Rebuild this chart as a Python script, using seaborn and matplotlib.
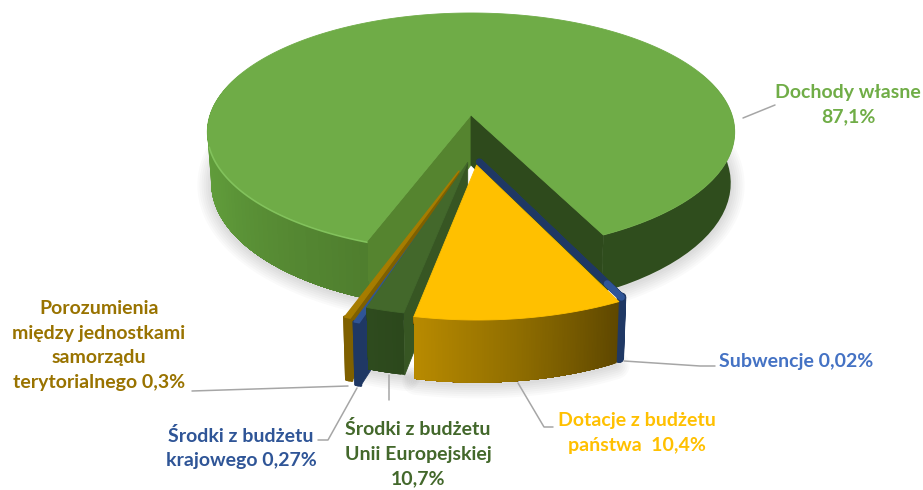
import numpy as np
import seaborn as sns
import matplotlib.pyplot as plt

categories = ['Dochody własne', 'Subwencje', 'Dotacje z budżetu państwa',
              'Środki z budżetu Unii Europejskiej', 'Środki z budżetu krajowego',
              'Porozumienia między jednostkami samorządu terytorialnego']
# slice sizes as drawn (the dark green one is much thinner than its printed label)
shares = [87.1, 0.02, 10.4, 1.91, 0.27, 0.30]
label_texts = ['Dochody własne\n87,1%', 'Subwencje 0,02%', 'Dotacje z budżetu\npaństwa  10,4%',
               'Środki z budżetu\nUnii Europejskiej\n10,7%', 'Środki z budżetu\nkrajowego 0,27%',
               'Porozumienia\nmiędzy jednostkami\nsamorządu\nterytorialnego 0,3%']
label_colors = ['#70AD47', '#4472C4', '#FFC000', '#43682B', '#2F5597', '#997300']

sns.set_theme(style='white')
plt.rcParams['font.family'] = ['Lato', 'DejaVu Sans']

# projection of the pie plane onto the picture
CX, CY = 471, 115
RX, RY = 261, 116.6
K = 0.143
H = 50
FIRST_ANGLE = -20.2


def project(u, v, drop=0.0):
    u, v = np.asarray(u, float), np.asarray(v, float)
    w = 1 - K * v
    x = RX * u / w
    y = CY + RY * v / w + drop * H / w
    return CX + x * (1 - 0.015 * drop), y


def rim(theta, off, drop=0.0):
    t = np.radians(theta)
    return project(off[0] + np.sin(t), off[1] + np.cos(t), drop)


def polygon(ax, xs, ys, color, z, lw=0.6):
    ax.fill(xs, ys, facecolor=color, edgecolor=color, linewidth=lw, zorder=z, joinstyle='round')


def radial_wall(ax, theta, off, color, z):
    x0, y0 = project(off[0], off[1])
    x1, y1 = rim(theta, off)
    x2, y2 = rim(theta, off, 1)
    x3, y3 = project(off[0], off[1], 1)
    polygon(ax, [x0, x1, x2, x3], [y0, y1, y2, y3], color, z)


def outer_wall(ax, hi, lo, colors, off, z, lw=0.0):
    # each strip runs on to the far end, the next one paints over it, so no seams show
    edges = np.linspace(hi, lo, len(colors) + 1)
    for a, c in zip(edges[:-1], colors):
        th = np.linspace(a, lo, 30)
        x0, y0 = rim(th, off)
        x1, y1 = rim(th[::-1], off, 1)
        polygon(ax, np.r_[x0, x1], np.r_[y0, y1], c, z, lw)


def top_face(ax, hi, lo, off, color, z, lw=0.6):
    th = np.linspace(hi, lo, 90 if abs(hi - lo) > 5 else 6)
    x, y = rim(th, off)
    x0, y0 = project(off[0], off[1])
    polygon(ax, np.r_[x0, x, x0], np.r_[y0, y, y0], color, z, lw)


fig, ax = plt.subplots(figsize=(9.23, 4.90), dpi=100)
fig.subplots_adjust(0, 0, 1, 1)
ax.set_xlim(0, 923)
ax.set_ylim(490, 0)
ax.axis('off')

# angles of all slices, clockwise seen from above
ends = FIRST_ANGLE - np.cumsum(shares) * 3.6
starts = np.r_[FIRST_ANGLE, ends[:-1]]

offsets = [(0, 0), (0.03, 0.38), (0.02, 0.405), (-0.012, 0.385), (-0.03, 0.47), (-0.043, 0.45)]

# soft shadow under the walls
for lw in np.arange(2, 22, 3):
    for th, off in [(np.linspace(-100, -20, 60), offsets[0]), (np.linspace(28, 95, 50), offsets[0]),
                    (np.linspace(26, -11, 40), offsets[2]), (np.linspace(-11, -20, 10), offsets[3])]:
        x, y = rim(th, off, 1)
        ax.plot(x, y + 2, color='black', alpha=0.018, lw=lw, zorder=0, solid_capstyle='round')

# big green slice
g_hi, g_lo = ends[0] + 360, starts[0]
radial_wall(ax, g_lo, offsets[0], '#55842F', 1)
radial_wall(ax, g_hi, offsets[0], '#2E4A1C', 1)
left_colors = sns.blend_palette(['#65A33E', '#5F9A3A', '#4F7E2E'], 60)
outer_wall(ax, -112, g_lo, left_colors, offsets[0], 1)
outer_wall(ax, g_hi, 112, ['#2F4D1D'], offsets[0], 1)
th = np.linspace(g_lo, g_lo - 360 * shares[0] / 100, 300)
x, y = rim(th, offsets[0])
x0, y0 = project(0, 0)
polygon(ax, np.r_[x0, x, x0], np.r_[y0, y, y0], '#6FAC47', 1.5)
xr, yr = rim(np.linspace(g_lo, -75, 60), offsets[0])
ax.plot(xr, yr + 0.8, color='#82C25C', lw=1.2, zorder=1.6)

# brown slice
radial_wall(ax, starts[5], offsets[5], '#7F6000', 2)
outer_wall(ax, starts[5], ends[5], ['#7F6000'] * 2, offsets[5], 2, lw=2)
top_face(ax, starts[5], ends[5], offsets[5], '#A67C00', 2, lw=1.0)

# dark blue slice
radial_wall(ax, starts[4], offsets[4], '#1F3864', 3)
outer_wall(ax, starts[4], ends[4], ['#1F3864'] * 2, offsets[4], 3, lw=2)
top_face(ax, starts[4], ends[4], offsets[4], '#2F5597', 3, lw=1.0)

# dark green slice
radial_wall(ax, starts[3], offsets[3], '#375623', 4)
outer_wall(ax, starts[3], ends[3], sns.blend_palette(['#2C481C', '#2E4B1E'], 10), offsets[3], 4)
top_face(ax, starts[3], ends[3], offsets[3], '#43682B', 4)

# subwencje, almost no angle so it is mostly its bevel
top_face(ax, starts[1], ends[1], offsets[1], '#1F3864', 5, lw=5)
outer_wall(ax, starts[1], ends[1], ['#1F3864'] * 2, offsets[1], 5, lw=6.5)
xb, yb = rim(np.array([ends[1]]), offsets[1])
xa, ya = project(offsets[1][0], offsets[1][1])
ax.plot([xa + (xb[0] - xa) * 0.9, xb[0]], [ya + (yb[0] - ya) * 0.9, yb[0]],
        color='#2F5597', lw=5, solid_capstyle='round', zorder=5.2)

# yellow slice
outer_wall(ax, starts[2], ends[2], sns.blend_palette(['#5F4800', '#8F6D00', '#B88A00'], 120), offsets[2], 6)
top_face(ax, starts[2], ends[2], offsets[2], '#FFC000', 6.5)

# leader lines
leaders = [([743, 775], [118, 105]),
           ([624, 700, 715], [361, 366, 366]),
           ([518, 544, 553], [383, 427, 427]),
           ([389, 389], [375, 400]),
           ([357, 328, 318], [388, 440, 440]),
           ([192, 348], [391, 386])]
for xs, ys in leaders:
    ax.plot(xs, ys, color='#A6A6A6', lw=1.1, zorder=7)

# labels
label_pos = [(848, 104.5), (796.5, 361), (637, 433), (418, 454), (241, 448), (99, 345.5)]
for txt, col, (lx, ly) in zip(label_texts, label_colors, label_pos):
    ax.text(lx, ly, txt, color=col, fontsize=14, fontweight='bold', ha='center', va='center',
            linespacing=1.55, zorder=8)

plt.savefig('out.png', dpi=100)
